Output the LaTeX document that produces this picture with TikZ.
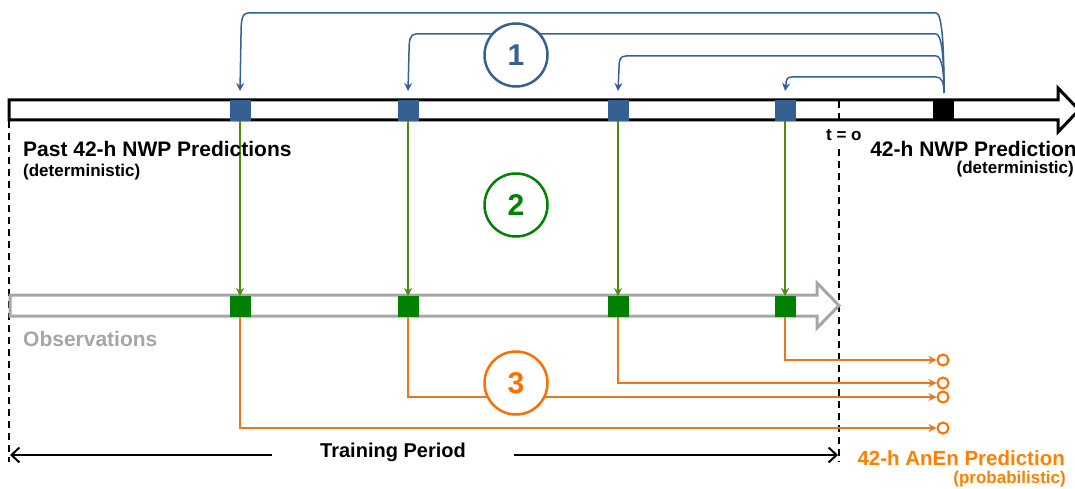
\documentclass[tikz,border=0pt]{standalone}
\usepackage{fontspec}
\setmainfont{Liberation Sans}
\usetikzlibrary{arrows.meta,calc}
\definecolor{nwpblue}{RGB}{54,96,146}
\definecolor{obsgreen}{RGB}{0,128,0}
\definecolor{arrgreen}{RGB}{79,138,16}
\definecolor{anorange}{RGB}{232,119,34}
\definecolor{circorange}{RGB}{255,110,0}
\definecolor{textorange}{RGB}{255,128,0}
\definecolor{obsgray}{RGB}{166,166,166}
\tikzset{
  sq/.style={minimum width=21pt,minimum height=21pt,inner sep=0pt,outer sep=0pt},
  bluesq/.style={sq,fill=nwpblue},
  greensq/.style={sq,fill=obsgreen},
  bluearr/.style={draw=nwpblue,line width=1.5pt,-{Stealth[length=8pt,width=8pt]}},
  greenarr/.style={draw=arrgreen,line width=1.3pt,-{Stealth[length=8pt,width=8pt]}},
  orarr/.style={draw=anorange,line width=1.5pt,-{Stealth[length=8pt,width=8pt]}},
  endring/.style={circle,draw=circorange,line width=2pt,minimum size=11pt,inner sep=0pt},
  stepcirc/.style={circle,line width=2.5pt,minimum size=63pt,inner sep=0pt,fill=white,font=\bfseries\fontsize{30}{30}\selectfont},
  lbl/.style={inner sep=0pt,font=\bfseries\fontsize{21}{25}\selectfont},
  sublbl/.style={inner sep=0pt,font=\bfseries\fontsize{17}{20}\selectfont},
  vdash/.style={draw=black,line width=1.2pt,dash pattern=on 7pt off 5pt},
  trainarr/.style={draw=black,line width=1.5pt},
}
\begin{document}
\begin{tikzpicture}[x=1pt,y=-1pt]
\useasboundingbox (0,0) rectangle (1075,489);
% dashed verticals
\coordinate (dl1) at (9,121);
\coordinate (dl2) at (9,462);
\coordinate (dr1) at (839,101);
\coordinate (dr2) at (839,462);
\draw[vdash] (dl1) -- (dl2);
\draw[vdash] (dr1) -- (dr2);
% top NWP bar
\draw[line width=3pt,fill=white,line join=miter] (9,100) -- (1058,100) -- (1058,88) -- (1079,110) -- (1058,132) -- (1058,120) -- (9,120) -- cycle;
\draw[vdash] (dr1) -- (839,120);
% observation bar
\draw[obsgray,line width=3pt,line join=miter] (10,295) -- (817,295) -- (817,283) -- (839,305.5) -- (817,328) -- (817,316) -- (10,316) -- cycle;
% squares
\node[bluesq] (b1) at (240,110.5) {};
\node[bluesq] (b2) at (408,110.5) {};
\node[bluesq] (b3) at (618,110.5) {};
\node[bluesq] (b4) at (785,110.5) {};
\node[sq,fill=black] (bk) at (943,110.5) {};
\node[greensq] (g1) at (240,306.5) {};
\node[greensq] (g2) at (408,306.5) {};
\node[greensq] (g3) at (618,306.5) {};
\node[greensq] (g4) at (785,306.5) {};
% step 1 arrows
\coordinate (src) at (944,93);
\coordinate (t1) at (240,91);
\coordinate (t2) at (408,91);
\coordinate (t3) at (618,91);
\coordinate (t4) at (785,91);
\draw[bluearr] (src) .. controls (944,45) and (942,13) .. (936,13) -- (248,13) .. controls (242,13) and (241,20) .. (241,35) -- (t1);
\draw[bluearr] (src) .. controls (944,60) and (942,34) .. (936,34) -- (416,34) .. controls (410,34) and (409,40) .. (409,52) -- (t2);
\draw[bluearr] (src) .. controls (944,72) and (942,56) .. (936,56) -- (626,56) .. controls (620,56) and (619,60) .. (619,68) -- (t3);
\draw[bluearr] (src) .. controls (944,83) and (942,77) .. (936,77) -- (792,77) .. controls (787,77) and (786,80) .. (786,84) -- (t4);
% step 2 arrows
\draw[greenarr] (b1.south) -- (g1.north);
\draw[greenarr] (b2.south) -- (g2.north);
\draw[greenarr] (b3.south) -- (g3.north);
\draw[greenarr] (b4.south) -- (g4.north);
% step 3 arrows
\node[endring] (o4) at (943,360) {};
\node[endring] (o3) at (943,383) {};
\node[endring] (o2) at (943,397) {};
\node[endring] (o1) at (943,428) {};
\draw[orarr] (g4.south) |- (o4);
\draw[orarr] (g3.south) |- (o3);
\draw[orarr] (g2.south) |- (o2);
\draw[orarr] (g1.south) |- (o1);
% step circles
\node[stepcirc,draw=nwpblue,text=nwpblue] (c1) at (516,55) {1};
\node[stepcirc,draw=obsgreen,text=obsgreen] (c2) at (516,205) {2};
\node[stepcirc,draw=circorange,text=circorange] (c3) at (516,383) {3};
% training period
\node[lbl,font=\bfseries\fontsize{20}{24}\selectfont,anchor=base] (tp) at (393,457) {Training Period};
\coordinate (tpl) at (10,455);
\coordinate (tpr) at (838,455);
\draw[trainarr,-{Straight Barb[length=8pt,width=15pt,line width=2pt]}] (272,455) -- (tpl);
\draw[trainarr,-{Straight Barb[length=8pt,width=15pt,line width=2pt]}] (514,455) -- (tpr);
% labels
\node[lbl,anchor=base west] (pl) at (23,157) {Past 42-h NWP Predictions};
\node[sublbl,anchor=base west] (pd) at (23,176) {(deterministic)};
\node[sublbl,anchor=base west,fill=white,inner xsep=1pt,inner ysep=5pt] (t0) at (825,141) {t = o};
\node[lbl,anchor=base east] (nl) at (1077,157) {42-h NWP Prediction};
\node[sublbl,anchor=base east] (nd) at (1074,174) {(deterministic)};
\node[lbl,anchor=base west,text=obsgray] (ob) at (23,346) {Observations};
\node[lbl,font=\bfseries\fontsize{20.5}{24}\selectfont,anchor=base east,text=textorange] (al) at (1065,465) {42-h AnEn Prediction};
\node[sublbl,anchor=base east,text=textorange] (ap) at (1066,483) {(probabilistic)};
\end{tikzpicture}
\end{document}
